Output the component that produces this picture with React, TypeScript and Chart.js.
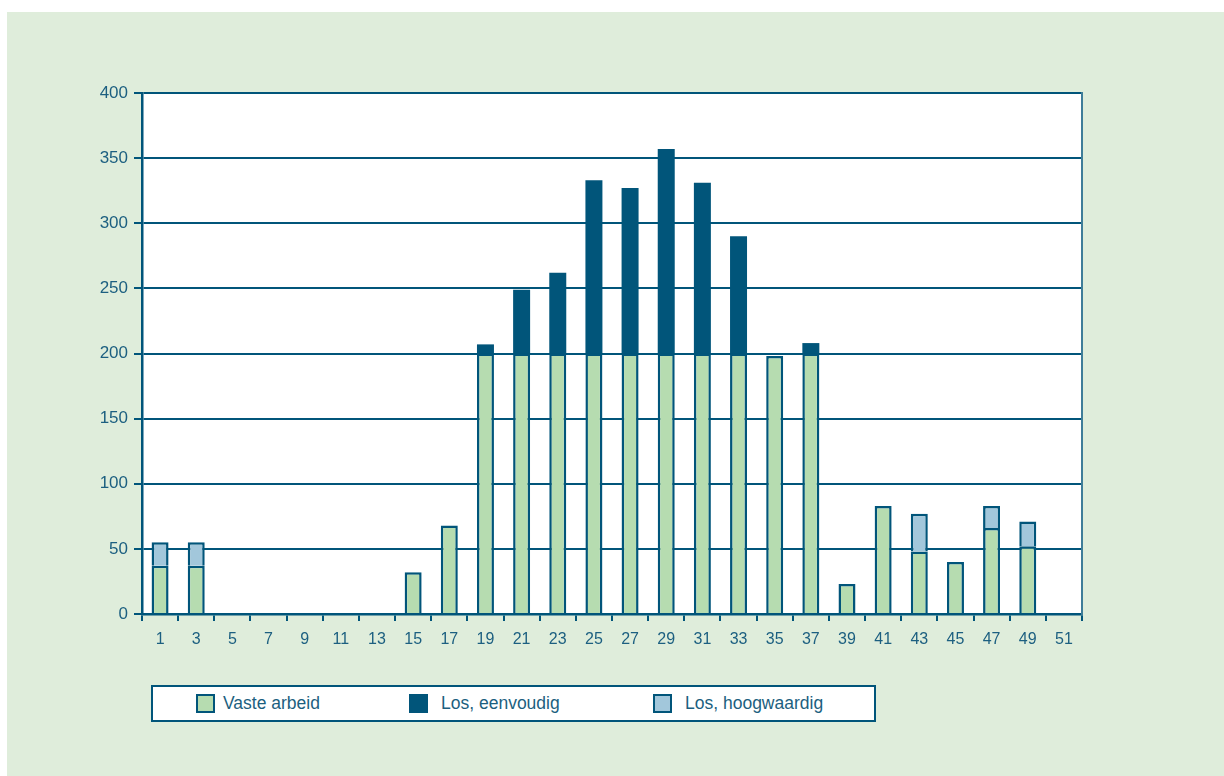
import React, { useEffect, useRef } from "react";
import { Chart, registerables } from "chart.js";

Chart.register(...registerables);

// Week numbers along the x axis
const weeks: string[] = [
  "1", "3", "5", "7", "9", "11", "13", "15", "17", "19", "21", "23", "25",
  "27", "29", "31", "33", "35", "37", "39", "41", "43", "45", "47", "49", "51",
];

// Series values per week
const vasteArbeid: number[] = [
  37, 37, 0, 0, 0, 0, 0, 32, 68, 200, 200, 200, 200,
  200, 200, 200, 200, 198, 200, 23, 83, 48, 40, 66, 52, 0,
];
const losEenvoudig: number[] = [
  0, 0, 0, 0, 0, 0, 0, 0, 0, 7, 49, 62, 133,
  127, 157, 131, 90, 0, 8, 0, 0, 0, 0, 0, 0, 0,
];
const losHoogwaardig: number[] = [
  18, 18, 0, 0, 0, 0, 0, 0, 0, 0, 0, 0, 0,
  0, 0, 0, 0, 0, 0, 0, 0, 29, 0, 17, 19, 0,
];

const yTicks: number[] = [0, 50, 100, 150, 200, 250, 300, 350, 400];

const DARK = "#01557a";
const GREEN = "#b6dcb0";
const LIGHTBLUE = "#a2c7db";
const TEXT = "#1c5f80";
const PAGE_BG = "#dfeddb";
const FONT = "'Liberation Sans', Arial, sans-serif";

const seriesNames = ["Vaste arbeid", "Los, eenvoudig", "Los, hoogwaardig"];
const seriesColors = [GREEN, DARK, LIGHTBLUE];

const W = 1224;
const H = 776;
const AREA = { left: 142, top: 93, right: 1082, bottom: 614 };

export default function App() {
  const canvasRef = useRef<HTMLCanvasElement | null>(null);

  useEffect(() => {
    if (!canvasRef.current) return;

    const plotFrame = {
      id: "plotFrame",
      beforeDraw(chart: any) {
        const { ctx, chartArea } = chart;
        ctx.save();
        ctx.fillStyle = "#ffffff";
        ctx.fillRect(chartArea.left, chartArea.top, chartArea.right - chartArea.left, chartArea.bottom - chartArea.top);
        ctx.restore();
      },
      afterDraw(chart: any) {
        const { ctx, chartArea } = chart;
        ctx.save();
        ctx.strokeStyle = "#3f7d99";
        ctx.lineWidth = 2;
        ctx.beginPath();
        ctx.moveTo(chartArea.right, chartArea.top - 1);
        ctx.lineTo(chartArea.right, chartArea.bottom + 1);
        ctx.stroke();
        ctx.restore();
      },
    };

    const chart = new Chart(canvasRef.current, {
      type: "bar",
      data: {
        labels: weeks,
        datasets: [vasteArbeid, losEenvoudig, losHoogwaardig].map((values, i) => ({
          label: seriesNames[i],
          // empty segments are left out so they draw no outline
          data: values.map((v) => (v === 0 ? null : v)),
          backgroundColor: seriesColors[i],
          borderColor: DARK,
          borderWidth: seriesColors[i] === DARK ? 0 : 2.5,
          borderSkipped: "start",
          categoryPercentage: 1,
          barPercentage: 0.47,
        })),
      },
      options: {
        responsive: false,
        animation: false,
        layout: { padding: { left: 0, top: AREA.top, right: W - AREA.right, bottom: 0 } },
        plugins: {
          legend: { display: false },
          tooltip: { enabled: false },
        },
        scales: {
          x: {
            stacked: true,
            offset: true,
            grid: {
              display: true,
              offset: true,
              drawOnChartArea: false,
              drawTicks: true,
              tickLength: 7,
              color: DARK,
              lineWidth: 2,
            },
            border: { display: true, color: DARK, width: 2.5 },
            ticks: {
              color: TEXT,
              font: { family: FONT, size: 16 },
              padding: 9,
              autoSkip: false,
              maxRotation: 0,
            },
            afterFit(scale: any) {
              scale.height = H - AREA.bottom;
            },
          },
          y: {
            stacked: true,
            min: 0,
            max: 400,
            afterBuildTicks(scale: any) {
              scale.ticks = yTicks.map((v) => ({ value: v }));
            },
            grid: {
              color: DARK,
              lineWidth: 2,
              drawTicks: true,
              tickLength: 8,
            },
            border: { display: true, color: DARK, width: 2.5 },
            ticks: {
              color: TEXT,
              font: { family: FONT, size: 17 },
              padding: 6,
            },
            afterFit(scale: any) {
              scale.width = AREA.left;
            },
          },
        },
      },
      plugins: [plotFrame],
    });

    return () => chart.destroy();
  }, []);

  return (
    <div style={{ position: "absolute", left: 0, top: 0, width: W, height: H, background: "#ffffff", overflow: "hidden" }}>
      <div style={{ position: "absolute", left: 7, top: 12, right: 0, bottom: 0, background: PAGE_BG }} />
      <canvas ref={canvasRef} width={W} height={H} style={{ position: "absolute", left: 0, top: 0, width: W, height: H }} />
      <div
        style={{
          position: "absolute",
          left: 151,
          top: 685,
          width: 721,
          height: 33,
          background: "#ffffff",
          border: `2px solid ${DARK}`,
          fontFamily: FONT,
          fontSize: 17.5,
          color: TEXT,
        }}
      >
        {seriesNames.map((name, i) => {
          const swatchX = [43, 256, 500][i];
          const textX = [70, 288, 532][i];
          return (
            <React.Fragment key={name}>
              <div
                style={{
                  position: "absolute",
                  left: swatchX,
                  top: 7,
                  width: 15,
                  height: 15,
                  background: seriesColors[i],
                  border: `2px solid ${DARK}`,
                }}
              />
              <div style={{ position: "absolute", left: textX, top: 6, lineHeight: "20px", whiteSpace: "nowrap" }}>{name}</div>
            </React.Fragment>
          );
        })}
      </div>
    </div>
  );
}
